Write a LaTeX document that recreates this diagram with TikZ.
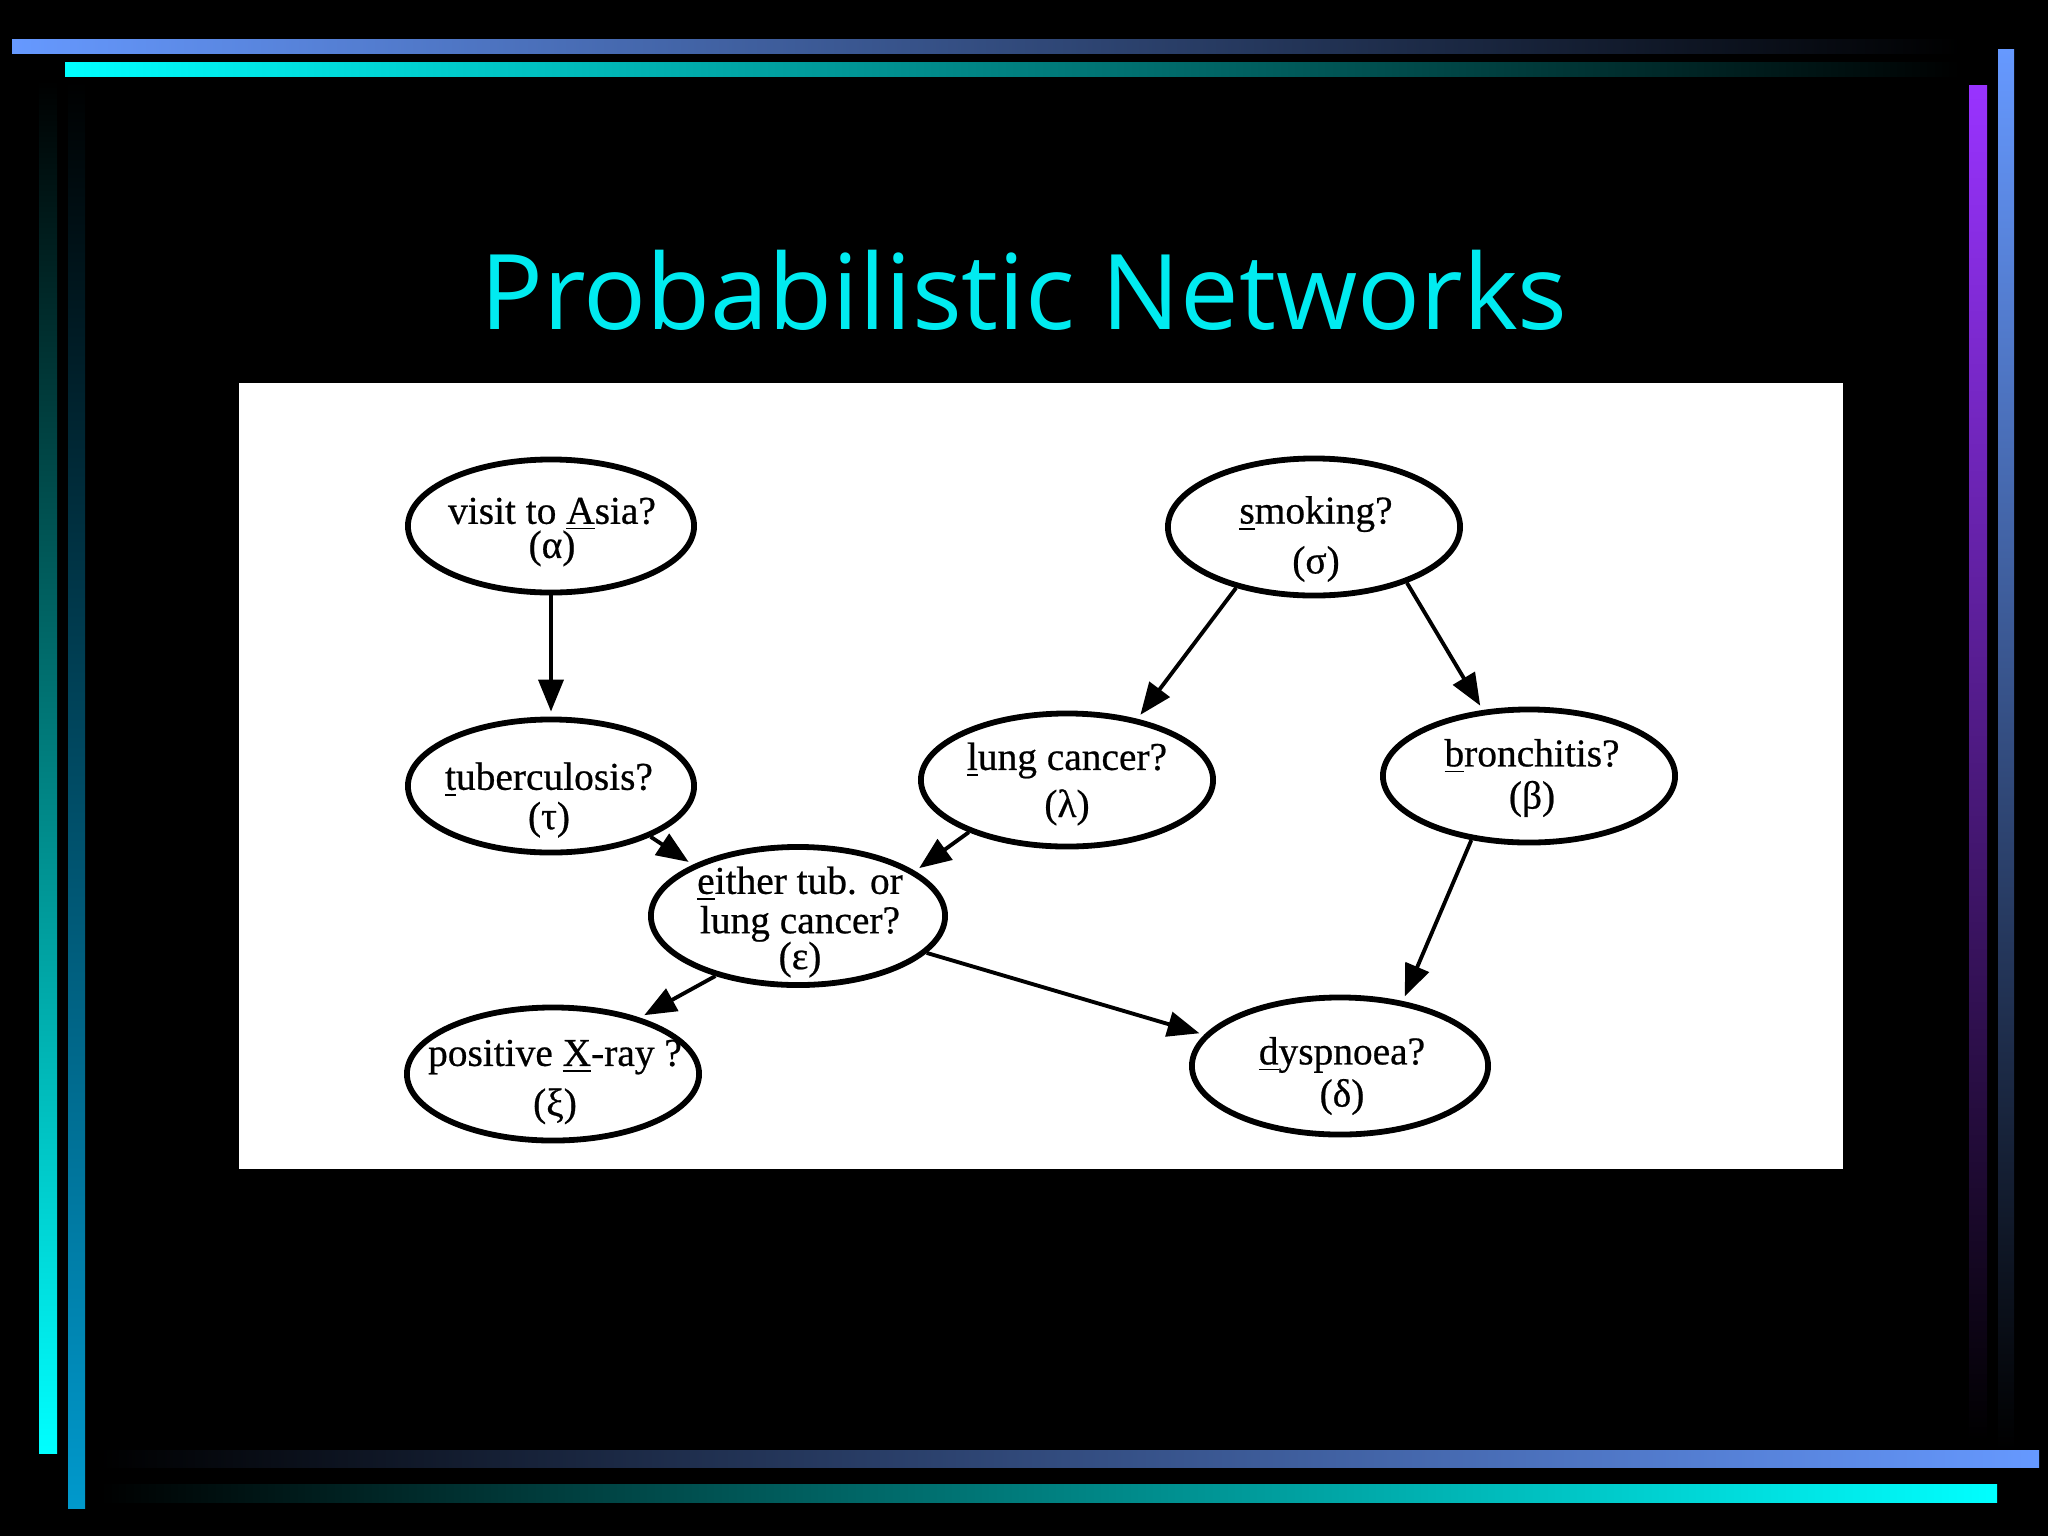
\documentclass[tikz,border=0pt]{standalone}
\usepackage{fontspec}
\setmainfont{Liberation Serif}
\newfontfamily\nodefont[FakeBold=0.6]{Liberation Serif}
\newfontfamily\titlefont{Open Sans}
\usetikzlibrary{shapes.geometric,arrows.meta}
\definecolor{barblue}{RGB}{102,153,255}
\definecolor{barcyan}{RGB}{0,255,255}
\definecolor{barpurple}{RGB}{153,51,255}
\definecolor{barteal}{RGB}{0,153,204}
\definecolor{titlecyan}{RGB}{0,235,240}
\begin{document}
\begin{tikzpicture}[x=0.01cm,y=-0.01cm,
  var/.style={ellipse,draw=black,line width=1.65pt,minimum width=2.86cm,minimum height=1.33cm,inner sep=0pt},
  lbl/.style={align=center,inner sep=0pt,font=\nodefont\fontsize{11.2}{11.2}\selectfont},
  edge/.style={line width=1.1pt,shorten >=0.05cm,-{Triangle[length=0.32cm,width=0.25cm]}}]
\fill[black] (0,0) rectangle (2048,1536);
\useasboundingbox (0,0) rectangle (2048,1536);
% border bars
\shade[left color=barblue,right color=black] (12,39) rectangle (1960,53);
\shade[left color=barcyan,right color=black] (65,62) rectangle (1960,76);
\shade[top color=barpurple,bottom color=black] (1969,85) rectangle (1987,1440);
\shade[top color=barblue,bottom color=black] (1998,49) rectangle (2014,1450);
\shade[top color=black,bottom color=barcyan] (39,80) rectangle (57,1453);
\shade[top color=black,bottom color=barteal] (68,80) rectangle (85,1508);
\shade[left color=black,right color=barblue] (100,1450) rectangle (2039,1467);
\shade[left color=black,right color=barcyan] (100,1484) rectangle (1997,1502);
% title
\node[text=titlecyan,font=\titlefont\fontsize{29.7}{36}\selectfont,anchor=base,inner sep=0pt] (title) at (1024,329) {Probabilistic Networks};
% picture panel
\fill[white] (239,383) rectangle (1843,1169);
% nodes
\node[var] (asia) at (551,526) {};
\node[var] (tub) at (551,786) {};
\node[var,minimum width=2.94cm,minimum height=1.38cm] (either) at (798,916) {};
\node[var,minimum width=2.92cm] (xray) at (553,1074) {};
\node[var,minimum width=2.92cm] (lung) at (1067,780) {};
\node[var,minimum width=2.92cm,minimum height=1.37cm] (smoking) at (1314,527) {};
\node[var,minimum width=2.92cm] (bronch) at (1529,776) {};
\node[var,minimum width=2.96cm,minimum height=1.37cm] (dysp) at (1340,1066) {};
% labels
\node[lbl] (asiat) at (552,532) {visit to \underline{A}sia?\\[-1.5pt](α)};
\node[lbl] (tubt) at (549,800) {\underline{t}uberculosis?\\(τ)};
\node[lbl] (eithert) at (800,922) {\underline{e}ither tub. or\\lung cancer?\\[-1pt](ε)};
\node[lbl] (xrayt) at (555,1082) {positive \underline{X}-ray ?\\[3pt](ξ)};
\node[lbl] (lungt) at (1067,784) {\underline{l}ung cancer?\\[2.2pt](λ)};
\node[lbl] (smokingt) at (1316,539) {\underline{s}moking?\\[3pt](σ)};
\node[lbl] (broncht) at (1532,778) {\underline{b}ronchitis?\\[0.8pt](β)};
\node[lbl] (dyspt) at (1342,1076) {\underline{d}yspnoea?\\[0.8pt](δ)};
% edges
\draw[edge] (asia.south) -- (tub.north);
\draw[edge] (tub.333.5) -- (either.154.7);
\draw[edge] (lung.208.6) -- (either.21.3);
\draw[edge] (either.216.9) -- (xray.33.1);
\draw[edge] (either.344.9) -- (dysp.167.4);
\draw[edge] (smoking.218.5) -- (lung.41.3);
\draw[edge] (smoking.329.4) -- (bronch.125.7);
\draw[edge] (bronch.228.2) -- (dysp.46.1);
\end{tikzpicture}
\end{document}
